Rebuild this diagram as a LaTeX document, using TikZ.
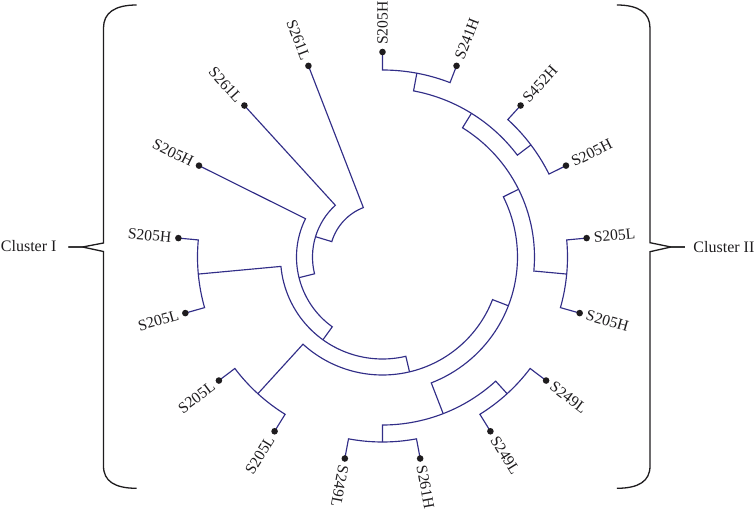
\documentclass[tikz,border=0pt]{standalone}
\usepackage{fontspec}
\setmainfont{Liberation Serif}
\definecolor{tree}{RGB}{50,46,136}
\definecolor{ink}{RGB}{30,28,30}
\newcommand\joinpair[5]{%
  \draw[branch] (#1) -- (#2:#5pt) arc[start angle=#2, end angle=#4, radius=#5pt] -- (#3);}
\begin{document}
\begin{tikzpicture}[x=1pt,y=1pt,
  branch/.style={draw=tree, line width=1.15pt, line join=miter},
  leafdot/.style={circle, fill=ink, inner sep=0pt, minimum size=6.6pt},
  lab/.style={font=\fontsize{15.6}{16}\selectfont, text=ink, inner sep=0pt},
  clab/.style={font=\fontsize{16}{18}\selectfont, text=ink, inner sep=0pt},
  bracestyle/.style={draw=ink, line width=1.3pt}]
\useasboundingbox (-382.5,-252) rectangle (373.5,257);
% leaf positions
\foreach \i in {0,...,16}{
  \pgfmathsetmacro\a{90-\i*360/17}
  \coordinate (l\i) at (\a:205pt);
}
% internal clades
\joinpair{l0}{90}{l1}{68.8235}{187}
\coordinate (A) at (79.4118:187pt);
\joinpair{l2}{47.6471}{l3}{26.4706}{186}
\coordinate (B) at (37.0588:186pt);
\joinpair{A}{79.4118}{B}{37.0588}{169}
\coordinate (AB) at (58.2353:169pt);
\joinpair{l4}{5.2941}{l5}{-15.8824}{185}
\coordinate (C) at (-5.2941:185pt);
\joinpair{AB}{58.2353}{C}{-5.2941}{152}
\coordinate (ABC) at (26.4706:152pt);
\joinpair{l6}{-37.0588}{l7}{-58.2353}{185}
\coordinate (G) at (-47.6471:185pt);
\joinpair{l8}{-79.4118}{l9}{-100.5882}{185}
\coordinate (F) at (-90:185pt);
\joinpair{G}{-47.6471}{F}{-90}{168}
\coordinate (FG) at (-68.8235:168pt);
\joinpair{ABC}{26.4706}{FG}{-68.8235}{135}
\coordinate (H) at (-21.1765:135pt);
\joinpair{l10}{-121.7647}{l11}{-142.9412}{185}
\coordinate (P1) at (-132.3529:185pt);
\joinpair{H}{-21.1765}{P1}{-132.3529}{118}
\coordinate (E) at (-76.7647:118pt);
\joinpair{l12}{-164.1176}{l13}{-185.2941}{185}
\coordinate (P2) at (-174.7059:185pt);
\joinpair{E}{-76.7647}{P2}{-174.7059}{102}
\coordinate (D) at (-125.7353:102pt);
\joinpair{D}{-125.7353}{l14}{-206.4706}{86}
\coordinate (N2) at (-166.1029:86pt);
\joinpair{N2}{-166.1029}{l15}{-227.6471}{70}
\coordinate (N1) at (-196.875:70pt);
\joinpair{N1}{-196.875}{l16}{-248.8235}{53}
% leaf dots and labels
\foreach \i/\t in {0/S205H,1/S241H,2/S452H,3/S205H,4/S205L,5/S205H,6/S249L,7/S249L,8/S261H,9/S249L,10/S205L,11/S205L,12/S205L,13/S205H,14/S205H,15/S261L,16/S261L}{
  \pgfmathsetmacro\a{90-\i*360/17}
  \node[leafdot] (d\i) at (l\i) {};
  \ifnum\i<10
    \node[lab, anchor=west, rotate=\a] (t\i) at (\a:212pt) {\t};
  \else
    \node[lab, anchor=east, rotate=\a+180] (t\i) at (\a:212pt) {\t};
  \fi
}
% braces
\draw[bracestyle] (-245.8,252) .. controls (-268,252) and (-279,244) .. (-279,229) -- (-279,14) -- (-300,10) -- (-314.2,10);
\draw[bracestyle] (-314.2,10) -- (-300,10) -- (-279,5.5) -- (-279,-209) .. controls (-279,-224) and (-268,-231.3) .. (-245.8,-231.3);
\draw[bracestyle] (234.3,252) .. controls (256.5,252) and (267.5,244) .. (267.5,229) -- (267.5,14.3) -- (288.5,10) -- (302.5,10);
\draw[bracestyle] (302.5,10) -- (288.5,10) -- (267.5,5.3) -- (267.5,-209) .. controls (267.5,-224) and (256.5,-231.3) .. (234.3,-231.3);
\node[clab, anchor=east] (c1) at (-325.8,11) {Cluster I};
\node[clab, anchor=west] (c2) at (310.8,10) {Cluster II};
\end{tikzpicture}
\end{document}
